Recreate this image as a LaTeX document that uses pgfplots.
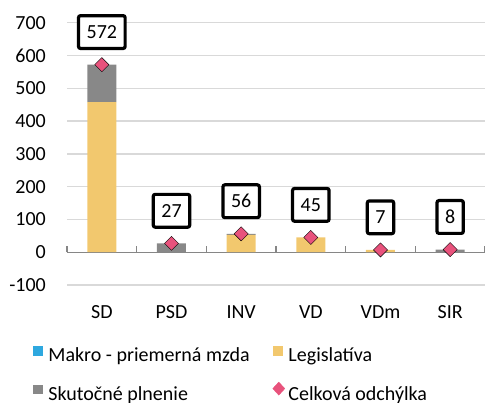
\documentclass[border=0pt]{standalone}
\usepackage{fontspec}
\setmainfont{Carlito}
\usepackage{pgfplots}
\pgfplotsset{compat=1.18}
\definecolor{cblue}{HTML}{2EA8DF}
\definecolor{cyellow}{HTML}{F2C86E}
\definecolor{cgray}{HTML}{888888}
\definecolor{cpink}{HTML}{E8527C}
\definecolor{cgrid}{HTML}{D9D9D9}
\definecolor{caxis}{HTML}{868686}
\newcommand{\fs}{\fontsize{20pt}{24pt}\selectfont}
\begin{document}
\begin{tikzpicture}
\useasboundingbox (0,0) rectangle (485pt,403pt);
\pgfplotsset{
  base/.style={
    at={(67pt,118pt)}, anchor=south west,
    scale only axis, width=418pt, height=262.3pt,
    xmin=-0.5, xmax=5.5, ymin=-100, ymax=700,
    clip=false,
  }
}
\begin{axis}[base,
  ybar stacked, bar width=29pt,
  xtick={0,...,5}, xticklabels={SD,PSD,INV,VD,VDm,SIR},
  ytick={-100,0,...,700},
  ymajorgrids, major grid style={cgrid, line width=1.4pt},
  axis line style={draw=none},
  major tick length=0pt,
  tick label style={font=\fs},
  /pgf/number format/assume math mode=true,
  yticklabel style={anchor=east, inner sep=0pt, xshift=-21pt},
  xticklabel style={anchor=north, inner sep=0pt, yshift=-20pt},
]
\addplot[fill=cblue, draw=none] coordinates {(0,0) (1,0) (2,0) (3,0) (4,0) (5,0)};
\addplot[fill=cyellow, draw=none] coordinates {(0,458) (1,0) (2,53) (3,45) (4,7) (5,0)};
\addplot[fill=cgray, draw=none] coordinates {(0,114) (1,27) (2,3) (3,0) (4,0) (5,8)};
\draw[caxis, line width=1.3pt] (axis cs:-0.5,0) -- (axis cs:5.5,0);
\pgfplotsinvokeforeach{-0.5,0.5,1.5,2.5,3.5,4.5,5.5}{\draw[caxis, line width=1.2pt] (axis cs:#1,0) -- ++(0pt,6pt);}
\end{axis}
\begin{axis}[base, hide axis,
  legend columns=2,
  legend cell align=left,
  legend style={at={(axis description cs:-0.0813,-0.2326)}, anchor=north west,
    draw=none, fill=none, inner sep=0pt, outer sep=0pt, font=\fs,
    row sep=16.5pt, /tikz/every even column/.append style={column sep=21pt}},
]
\addlegendimage{legend image code/.code={\fill[cblue] (0pt,1pt) rectangle (8.5pt,9.5pt); \path (13pt,0pt);}}
\addlegendentry{Makro - priemerná mzda}
\addlegendimage{legend image code/.code={\fill[cyellow] (0pt,1pt) rectangle (8.5pt,9.5pt); \path (13pt,0pt);}}
\addlegendentry{Legislatíva}
\addlegendimage{legend image code/.code={\fill[cgray] (0pt,1pt) rectangle (8.5pt,9.5pt); \path (13pt,0pt);}}
\addlegendentry{Skutočné plnenie}
\addplot[only marks, mark=square*, mark size=5pt,
  mark options={rotate=45, fill=cpink, draw=none},
  legend image code/.code={\fill[cpink] (-0.5pt,6pt) -- (5.5pt,12.5pt) -- (11.5pt,6pt) -- (5.5pt,-0.5pt) -- cycle; \path (13pt,0pt);},
  point meta=explicit symbolic,
  nodes near coords,
  every node near coord/.append style={font=\fs, draw=black, line width=3.2pt, fill=white,
    rounded corners=2pt, inner xsep=8.1pt, inner ysep=10pt, text height=12.8pt, text depth=0pt,
    yshift=14.6pt},
] coordinates {(0,572) [572] (1,27) [27] (2,56) [56] (3,45) [45] (4,7) [7] (5,8) [8]};
\addlegendentry{Celková odchýlka}
\end{axis}
\end{tikzpicture}
\end{document}
